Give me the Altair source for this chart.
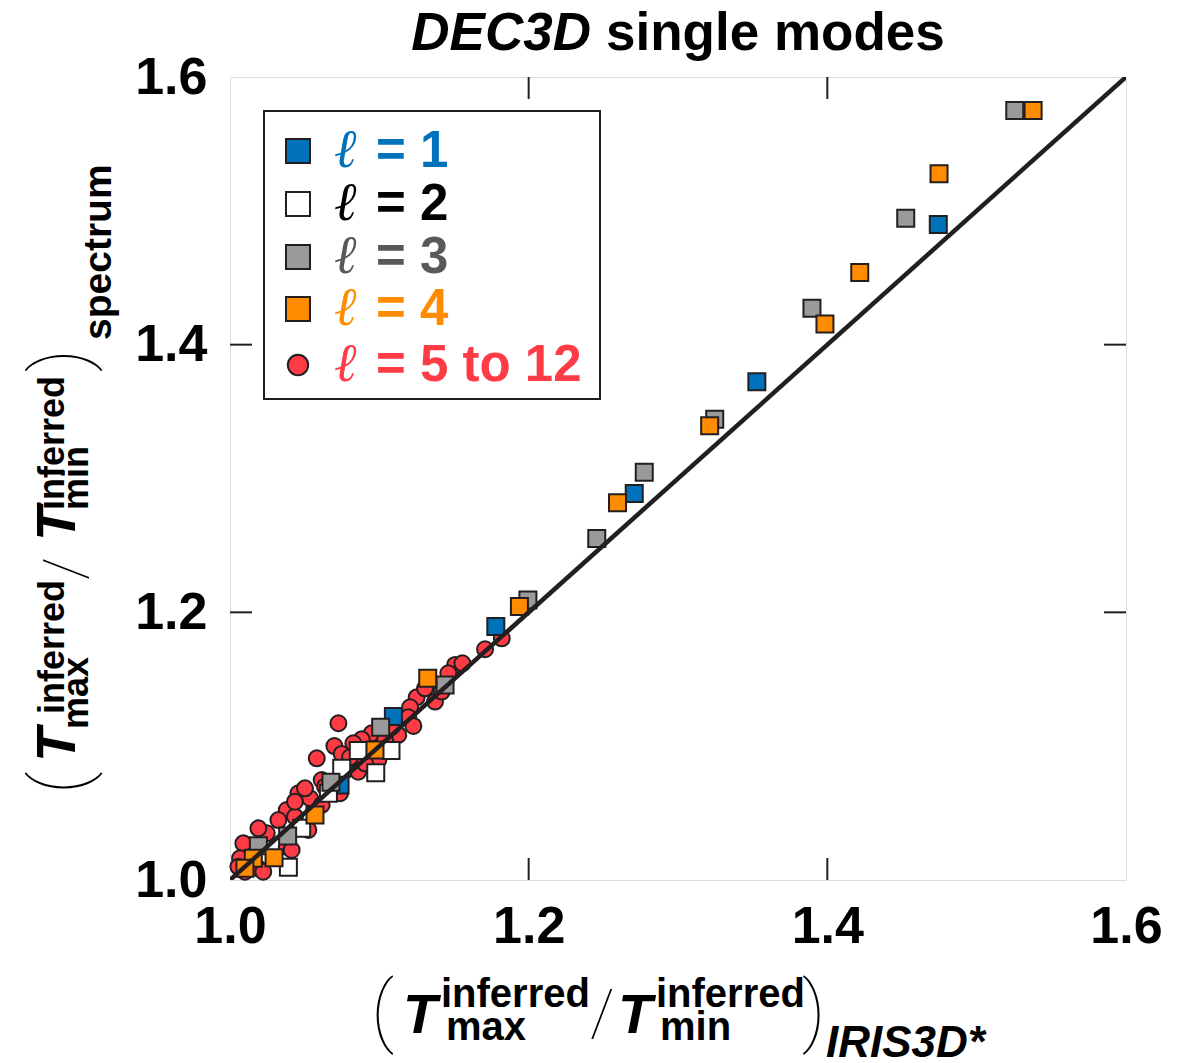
import altair as alt
import pandas as pd

# ---------------- data ----------------
l1_x = [1.4743, 1.3528, 1.2707, 1.1780, 1.1094, 1.0737]
l1_y = [1.4898, 1.3723, 1.2888, 1.1895, 1.1221, 1.0710]

l2_x = [1.1078, 1.0859, 1.0976, 1.0748, 1.0659, 1.0480, 1.0391]
l2_y = [1.0967, 1.0967, 1.0802, 1.0835, 1.0648, 1.0386, 1.0095]

l3_x = [1.5255, 1.4525, 1.3897, 1.3246, 1.2774, 1.2456, 1.1995, 1.1440,
        1.1009, 1.0676, 1.0386, 1.0190]
l3_y = [1.5750, 1.4945, 1.4273, 1.3443, 1.3046, 1.2551, 1.2093, 1.1457,
        1.1141, 1.0730, 1.0329, 1.0256]

l4_x = [1.5378, 1.4748, 1.4217, 1.3984, 1.3212, 1.2595, 1.1938, 1.1324,
        1.0971, 1.0569, 1.0295, 1.0156, 1.0100]
l4_y = [1.5750, 1.5277, 1.4539, 1.4154, 1.3394, 1.2818, 1.2044, 1.1507,
        1.0972, 1.0486, 1.0167, 1.0162, 1.0087]

l5_x = [1.1820, 1.1708, 1.1507, 1.1556, 1.1462, 1.1250, 1.1373, 1.1206,
        1.1194, 1.1228, 1.1127, 1.0726, 1.0949, 1.0882, 1.0699, 1.0748,
        1.0804, 1.0993, 1.0859, 1.0581, 1.0614, 1.0737, 1.0458, 1.0536,
        1.0614, 1.0380, 1.0435, 1.0324, 1.0525, 1.0246, 1.0380, 1.0413,
        1.0089, 1.0067, 1.0056, 1.0190, 1.0223, 1.0100, 1.0190, 1.0435,
        1.0636, 1.0502, 1.0904, 1.0759, 1.1306, 1.1418, 1.1083, 1.1038,
        1.0826]
l5_y = [1.1806, 1.1724, 1.1607, 1.1619, 1.1545, 1.1365, 1.1333, 1.1291,
        1.1216, 1.1151, 1.1084, 1.1171, 1.1096, 1.1051, 1.1001, 1.0942,
        1.0917, 1.0897, 1.0809, 1.0909, 1.0747, 1.0648, 1.0648, 1.0611,
        1.0561, 1.0523, 1.0473, 1.0448, 1.0374, 1.0349, 1.0249, 1.0224,
        1.0274, 1.0162, 1.0100, 1.0087, 1.0062, 1.0062, 1.0386, 1.0585,
        1.0697, 1.0685, 1.0872, 1.0822, 1.1432, 1.1408, 1.1146, 1.1046,
        1.1022]

diag_x = [1.0, 1.6]
diag_y = [1.0, 1.6]
tick_values = [1.2, 1.4]
axis_values = [1.0, 1.2, 1.4, 1.6]

legend_labels = ["1", "2", "3", "4", "5 to 12"]

# ---------------- styles ----------------
BLUE = "#0072BC"
WHITE = "#FFFFFF"
GRAY = "#9A9A9A"
ORANGE = "#FF8C00"
RED = "#FF3B46"
INK = "#231F20"
TXT3 = "#58595B"
FONT = "Liberation Sans"
THIN = "Roboto"

W, H = 896, 803

xscale = alt.Scale(domain=[1.0, 1.6], nice=False, zero=False)
yscale = alt.Scale(domain=[1.0, 1.6], nice=False, zero=False)

xaxis = alt.Axis(values=axis_values, format=".1f", labelFont=FONT,
                 labelFontWeight="bold", labelFontSize=52, labelColor="black",
                 ticks=False, domain=False, grid=False, labelPadding=21,
                 labelFlush=False, labelOverlap=False, title=None)
yaxis = alt.Axis(values=axis_values, format=".1f", labelFont=FONT,
                 labelFontWeight="bold", labelFontSize=52, labelColor="black",
                 ticks=False, domain=False, grid=False, labelPadding=23,
                 labelFlush=False, labelOverlap=False, title=None)


def X(field):
    return alt.X(field, type="quantitative", scale=xscale, axis=xaxis)


def Y(field):
    return alt.Y(field, type="quantitative", scale=yscale, axis=yaxis)


def series(xs, ys, color, shape):
    df = pd.DataFrame({"x": xs, "y": ys})
    if shape == "circle":
        mk = alt.Chart(df).mark_circle(fill=color, stroke=INK, strokeWidth=2,
                                       size=254, opacity=1)
    else:
        mk = alt.Chart(df).mark_square(fill=color, stroke=INK, strokeWidth=2,
                                       size=289, opacity=1)
    return mk.encode(x=X("x"), y=Y("y"))


one = pd.DataFrame({"a": [0]})


def txt(s, x, y, size, weight="bold", style="normal", color="black",
        angle=0, align="left", font=FONT):
    return alt.Chart(one).mark_text(
        text=s, fontSize=size, fontWeight=weight, fontStyle=style,
        color=color, angle=angle, align=align, baseline="alphabetic",
        font=font).encode(x=alt.value(x), y=alt.value(y))


layers = [
    series(l5_x, l5_y, RED, "circle"),
    series(l1_x, l1_y, BLUE, "square"),
    series(l2_x, l2_y, WHITE, "square"),
    series(l3_x, l3_y, GRAY, "square"),
    series(l4_x, l4_y, ORANGE, "square"),
]

diag = alt.Chart(pd.DataFrame({"x": diag_x, "y": diag_y})).mark_line(
    color=INK, strokeWidth=4.5, clip=True).encode(x=X("x"), y=Y("y"))
layers.append(diag)

tdf = pd.DataFrame({"v": tick_values})
TL = 22
layers += [
    alt.Chart(tdf).mark_rule(color=INK, strokeWidth=2).encode(
        x=X("v"), y=alt.value(H), y2=alt.value(H - TL)),
    alt.Chart(tdf).mark_rule(color=INK, strokeWidth=2).encode(
        x=X("v"), y=alt.value(0), y2=alt.value(TL)),
    alt.Chart(tdf).mark_rule(color=INK, strokeWidth=2).encode(
        y=Y("v"), x=alt.value(0), x2=alt.value(TL)),
    alt.Chart(tdf).mark_rule(color=INK, strokeWidth=2).encode(
        y=Y("v"), x=alt.value(W), x2=alt.value(W - TL)),
]

# ---------------- legend ----------------
layers.append(alt.Chart(one).mark_rect(fill="white", stroke=INK,
                                       strokeWidth=2).encode(
    x=alt.value(34), x2=alt.value(370), y=alt.value(34), y2=alt.value(322)))

leg_fill = [BLUE, WHITE, GRAY, ORANGE, RED]
leg_text = [BLUE, "#000000", TXT3, ORANGE, RED]
leg_center = [74, 127, 180, 232, 288]
for i, lab in enumerate(legend_labels):
    if i < 4:
        m = alt.Chart(one).mark_square(fill=leg_fill[i], stroke=INK,
                                       strokeWidth=2, size=576, opacity=1)
    else:
        m = alt.Chart(one).mark_circle(fill=leg_fill[i], stroke=INK,
                                       strokeWidth=2, size=415, opacity=1)
    layers.append(m.encode(x=alt.value(68), y=alt.value(leg_center[i])))
    base = leg_center[i] + 16
    layers.append(txt("\u2113", 104, base, 54, weight="normal",
                      style="italic", color=leg_text[i], font="DejaVu Serif"))
    layers.append(txt("= " + lab, 146, base, 51, color=leg_text[i]))

# ---------------- title ----------------
layers.append(txt("DEC3D", 361, -27, 53, style="italic", align="right"))
layers.append(txt("single modes", 376, -27, 53))

# ---------------- x-axis title ----------------
layers += [
    txt("(", 141, 960, 78, weight=100, font=THIN),
    txt("T", 173, 956, 56, style="italic"),
    txt("inferred", 211, 930, 40),
    txt("max", 216, 963, 40),
    txt("/", 360, 958, 64, weight=100, font=THIN),
    txt("T", 388, 956, 56, style="italic"),
    txt("inferred", 426, 930, 40),
    txt("min", 430, 963, 40),
    txt(")", 572, 960, 78, weight=100, font=THIN),
    txt("IRIS3D*", 596, 980, 44, style="italic"),
]

# ---------------- y-axis title (rotated) ----------------
A = 270
layers += [
    txt("(", -145, 717, 76, weight=100, angle=A, font=THIN),
    txt("T", -155, 685, 56, style="italic", angle=A),
    txt("inferred", -166, 637, 36, angle=A),
    txt("max", -142, 652, 36, angle=A),
    txt("/", -145, 503, 60, weight=100, angle=A, font=THIN),
    txt("T", -155, 464, 56, style="italic", angle=A),
    txt("inferred", -166, 433, 36, angle=A),
    txt("min", -142, 433, 36, angle=A),
    txt(")", -145, 295, 76, weight=100, angle=A, font=THIN),
    txt("spectrum", -119, 263, 39, angle=A),
]

chart = alt.layer(*layers).properties(
    width=W, height=H,
    autosize=alt.AutoSizeParams(type="none"),
    padding={"left": 222, "top": 69, "right": 40, "bottom": 183},
).configure_view(stroke=INK, strokeWidth=2.5).configure(background="white")

chart.save("out.html", embed_options={"renderer": "svg", "actions": False})
